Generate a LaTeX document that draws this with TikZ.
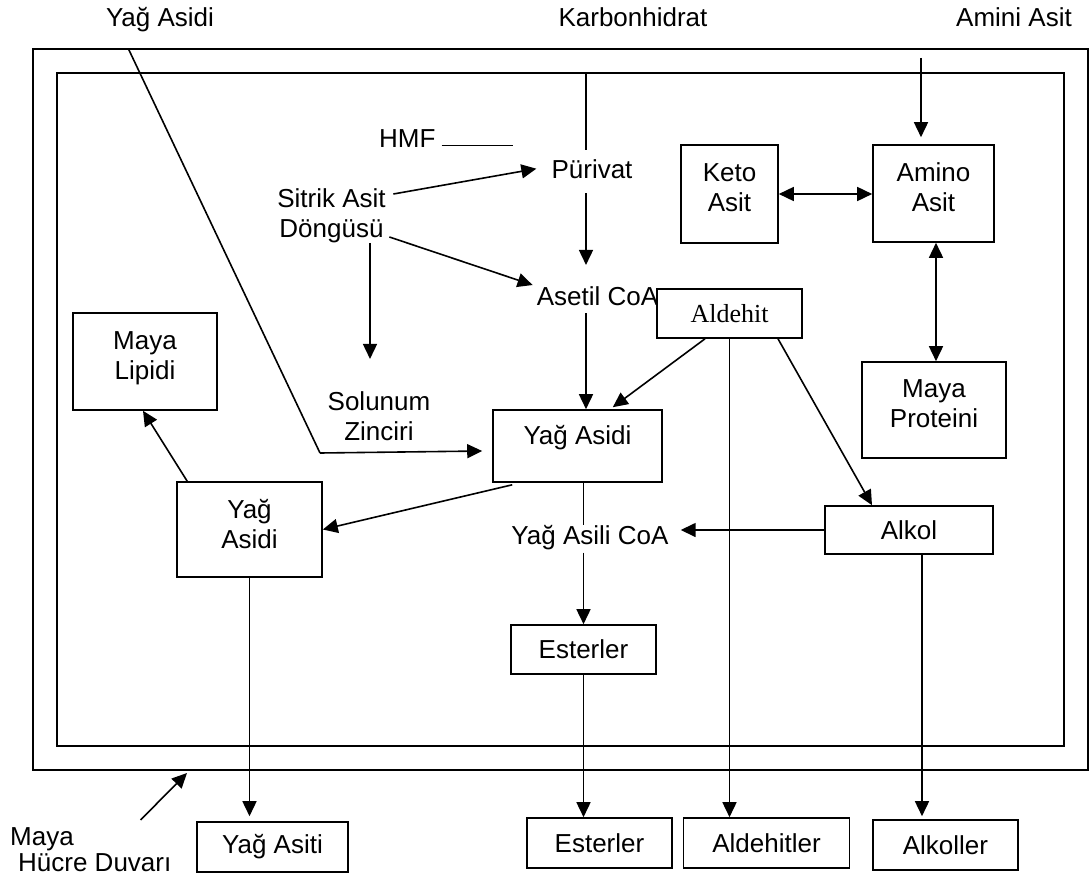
\documentclass[tikz,border=0pt]{standalone}
\usepackage{fontspec}
\setmainfont{Liberation Sans}
\newfontfamily\timesfont{Liberation Serif}
\usetikzlibrary{positioning,arrows.meta}
\tikzset{%
  txt/.style={font=\fontsize{26}{30}\selectfont,inner sep=0pt,align=center},
  box/.style={draw,fill=white,line width=1.6pt,inner sep=0pt,font=\fontsize{26}{30}\selectfont},
  wire/.style={line width=1.6pt},
  arr/.style={line width=1.6pt,-{Triangle[length=15pt,width=14pt]}},
  darr/.style={line width=1.6pt,{Triangle[length=15pt,width=14pt]}-{Triangle[length=15pt,width=14pt]}},
  wall/.style={draw,line width=2.2pt}
}

\begin{document}
\begin{tikzpicture}[x=1pt,y=-1pt]
  \useasboundingbox (0,0) rectangle (1090,875);
  \draw[wall] (33,49) rectangle (1088,770);
  \draw[wall,line width=2pt] (57,73) rectangle (1064,746);

  \node[txt,anchor=base] (lyag) at (160,27) {Yağ Asidi};
  \node[txt,anchor=base] (lkarb) at (633,27) {Karbonhidrat};
  \node[txt,anchor=base] (lamin) at (1014,27) {Amini Asit};
  \coordinate (yagin) at (128.5,49);
  \coordinate (yagbend) at (320,453);
  \coordinate (karbin) at (586,73);
  \coordinate (aminin) at (921,58);

  \node[txt,anchor=base west] (hmf) at (379,147) {HMF};
  \coordinate (hmfend) at (513,145.5);
  \node[txt,anchor=base] (puri) at (592,178) {Pürivat};
  \node[txt] (sitrik) at (331.5,215.5) {Sitrik Asit\\Döngüsü};
  \node[txt,anchor=base] (aset) at (597.5,305) {Asetil CoA};
  \node[txt] (solunum) at (379,416.7) {Solunum\\Zinciri};
  \node[txt,anchor=base] (yagasili) at (590,544) {Yağ Asili CoA};

  \node[box,minimum width=97pt,minimum height=98pt] (keto) at (729.5,194) {};
  \node[txt] (ketot) at ([shift={(0,-6.5)}]keto.center) {Keto\\Asit};
  \node[box,minimum width=121pt,minimum height=97pt] (amino) at (933.5,193.5) {};
  \node[txt] (aminot) at ([shift={(0,-6)}]amino.center) {Amino\\Asit};
  \node[box,minimum width=144pt,minimum height=96pt] (mprot) at (934,410) {};
  \node[txt] (mprott) at ([shift={(0,-6)}]mprot.center) {Maya\\Proteini};
  \node[box,minimum width=144pt,minimum height=97pt] (lipid) at (145,361.5) {};
  \node[txt] (lipidt) at ([shift={(0,-3)}]lipid.center) {Maya\\Lipidi};
  \node[box,minimum width=169pt,minimum height=72pt] (yagmid) at (577.5,446) {};
  \node[txt] (yagmidt) at ([shift={(0,-8.3)}]yagmid.center) {Yağ Asidi};
  \node[box,minimum width=145pt,minimum height=95pt] (yagleft) at (249.5,529.5) {};
  \node[txt] (yaglefts) at ([shift={(0,-5.5)}]yagleft.center) {Yağ\\Asidi};
  \node[box,font=\timesfont\fontsize{26}{30}\selectfont,minimum width=145pt,minimum height=49pt] (aldehit) at (729.5,313.5) {Aldehit};
  \node[box,minimum width=168pt,minimum height=48pt] (alkol) at (909,530) {Alkol};
  \node[box,minimum width=145pt,minimum height=49pt] (esterin) at (583.5,649.5) {Esterler};
  \node[box,minimum width=151pt,minimum height=50pt] (yagasiti) at (272.5,847) {Yağ Asiti};
  \node[box,minimum width=145pt,minimum height=50pt] (esterout) at (599.5,843) {Esterler};
  \node[box,minimum width=166pt,minimum height=50pt] (aldehitler) at (766.5,843) {Aldehitler};
  \node[box,minimum width=145pt,minimum height=50pt] (alkoller) at (945.5,845) {Alkoller};
  \node[txt,align=left,anchor=north west,font=\fontsize{26}{26}\selectfont] (duvar) at (10,827) {Maya\\\hspace*{8pt}Hücre Duvarı};
  \coordinate (wallpt) at (187,773);

  \draw[wire] (yagin) -- (yagbend);
  \draw[arr] (yagbend) -- ([shift={(-10,5)}]yagmid.west);
  \draw[wire,shorten >=9pt] (karbin) -- (karbin |- puri.north);
  \draw[arr,shorten <=15pt,shorten >=21pt] (karbin |- puri.south) -- (karbin |- aset.north);
  \draw[wire] ([shift={(6,-1.5)}]hmf.base east) -- (hmfend);
  \draw[arr] ([shift={(7.5,-21.5)}]sitrik.east) -- ([shift={(-15,0)}]puri.west);
  \draw[arr] ([shift={(3.5,21.5)}]sitrik.east) -- ([shift={(-4,-10.7)}]aset.west);
  \draw[arr,shorten >=33pt] (370,0 |- sitrik.south) -- (370,0 |- solunum.north);
  \draw[arr,shorten <=8pt] (karbin |- aset.south) -- (karbin |- yagmid.north);
  \draw[arr] ([xshift=-24.5pt]aldehit.south) -- ([shift={(-50,-2)}]yagmid.north east);
  \draw[arr] (aldehit.south) -- (aldehit.south |- aldehitler.north);
  \draw[arr] ([xshift=48.5pt]aldehit.south) -- ([xshift=-37pt]alkol.north);
  \draw[arr,shorten >=12pt] (alkol.west) -- (alkol.west -| yagasili.east);
  \draw[wire] (583.5,0 |- yagmid.south) -- (583.5,0 |- yagasili.north);
  \draw[arr,shorten <=3pt] (esterin.north |- yagasili.south) -- (esterin.north);
  \draw[arr] (esterin.south) -- (esterin.south |- esterout.north);
  \draw[arr,shorten >=7pt] (aminin) -- (aminin |- amino.north);
  \draw[darr] (keto.east) -- (keto.east -| amino.west);
  \draw[darr] (936,0 |- amino.south) -- (936,0 |- mprot.north);
  \draw[arr] ([shift={(20,2)}]yagmid.south west) -- (yagleft.east);
  \draw[arr] ([xshift=11pt]yagleft.north west) -- ([xshift=-2pt]lipid.south);
  \draw[arr,shorten >=5pt] (yagleft.south) -- (yagleft.south |- yagasiti.north);
  \draw[arr,shorten >=3pt] (922,0 |- alkol.south) -- (922,0 |- alkoller.north);
  \draw[arr] ([shift={(-31,-7)}]duvar.north east) -- (wallpt);
\end{tikzpicture}
\end{document}
